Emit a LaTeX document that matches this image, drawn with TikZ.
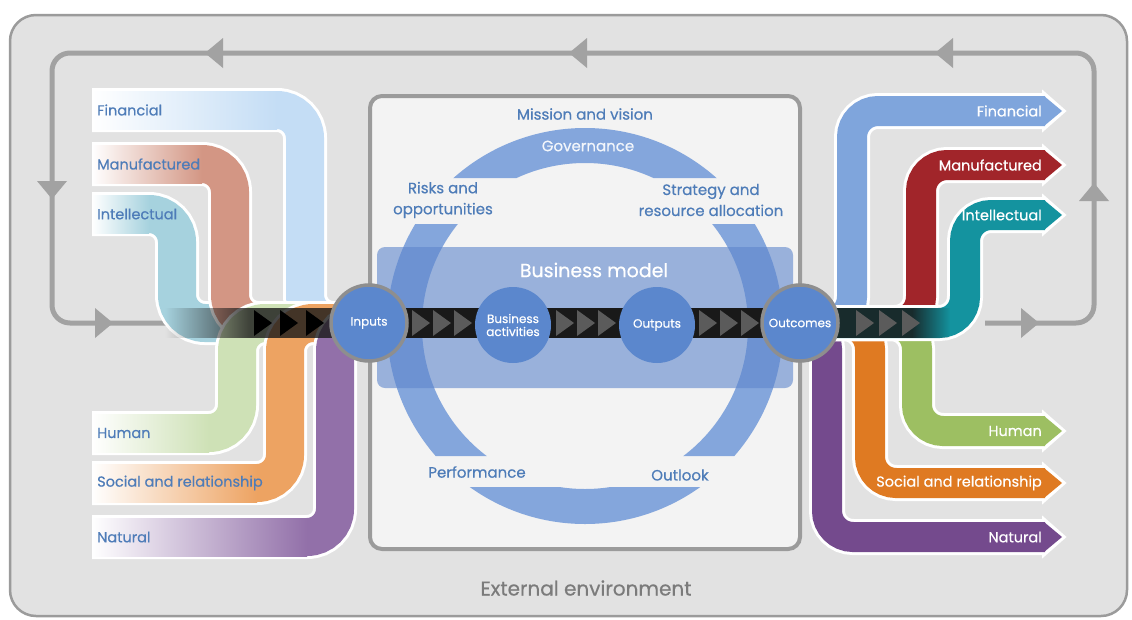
\documentclass[tikz,border=0pt]{standalone}
\usepackage{fontspec}
\setmainfont{Poppins}[FakeBold=0.5]
\usepackage{xcolor}
\definecolor{envgray}{HTML}{E2E2E2}
\definecolor{edgegray}{HTML}{9B9B9B}
\definecolor{loopgray}{HTML}{A2A2A2}
\definecolor{boxwhite}{HTML}{F3F3F3}
\definecolor{ringblue}{HTML}{84A6DC}
\definecolor{modelblue}{HTML}{5E86CC}
\definecolor{hubblue}{HTML}{5B87CD}
\definecolor{hubedge}{HTML}{8E8E8E}
\definecolor{labelblue}{HTML}{4E7CB8}
\definecolor{envtext}{HTML}{7B7B7B}
\definecolor{chainblack}{HTML}{191919}
\definecolor{chevgray}{HTML}{5B5B5B}
\definecolor{finpale}{HTML}{C4DDF5}
\definecolor{manpale}{HTML}{D39684}
\definecolor{intpale}{HTML}{A6D2DE}
\definecolor{humpale}{HTML}{CEE1B6}
\definecolor{socpale}{HTML}{EDA362}
\definecolor{natpale}{HTML}{9270A9}
\definecolor{finfull}{HTML}{7FA5DC}
\definecolor{manfull}{HTML}{A1252A}
\definecolor{intfull}{HTML}{14939F}
\definecolor{humfull}{HTML}{9DBF62}
\definecolor{socfull}{HTML}{DF7A22}
\definecolor{natfull}{HTML}{744A8D}
\usepackage{tikz}
\usetikzlibrary{fadings}
\tikzfading[name=fadeinright, left color=transparent!100, right color=transparent!0]
\tikzfading[name=fadeoutright, left color=transparent!0, right color=transparent!100]
\pgfdeclarelayer{front}
\pgfsetlayers{main,front}

\begin{document}
\begin{tikzpicture}[x=1pt, y=-1pt,
  inlabel/.style={anchor=west, text=labelblue, inner sep=0, font=\fontsize{14.5}{16}\selectfont},
  outlabel/.style={anchor=east, text=white, inner sep=0, font=\fontsize{14.5}{16}\selectfont},
  hub/.style={circle, fill=hubblue, minimum size=76, inner sep=0, text=white,
    align=center, font=\fontsize{12}{13}\selectfont},
  boxtext/.style={text=labelblue, align=center, font=\fontsize{15}{21}\selectfont},
  loopline/.style={loopgray, line width=5, rounded corners=18},
  looptip/.style={fill=loopgray},
  chevron/.style={fill=chevgray}]
  \useasboundingbox (0,0) rectangle (1132,619);
  % External environment
  \draw[edgegray, fill=envgray, line width=2.5, rounded corners=26] (10,15) rectangle (1127,616);
  \node[text=envtext, font=\fontsize{20}{22}\selectfont] (env) at (586,588) {External environment};
  % Feedback loop round the whole model
  \coordinate (loopin) at (185,323);
  \coordinate (loopout) at (985,323);
  \draw[loopline] (loopout) -| (1094,53) -| (52,323) -- (loopin);
  \foreach \x/\y/\r in {214/53/180, 578/53/180, 944/53/180, 52/190/-90,
                        104/323/0, 1094/192/90, 1030/323/0}
    \fill[looptip, shift={(\x,\y)}, rotate=\r] (-9,-15) -- (9,0) -- (-9,15) -- cycle;
  % Organisation box
  \draw[edgegray, line width=4, fill=boxwhite, rounded corners=12] (370,96) rectangle (800,549);
  \coordinate (ringc) at (585,326);
  \begin{scope}
    % gaps in the ring where its labels sit
    \clip (370,96) rectangle (800,178) (370,224) rectangle (800,456) (370,487) rectangle (800,549);
    \draw[ringblue, line width=35] (ringc) circle[radius=180.5];
  \end{scope}
  \fill[modelblue, opacity=0.6, rounded corners=8] (377,247) rectangle (793,388);
  \node[text=white, font=\fontsize{19}{21}\selectfont] (model) at (594,270) {Business model};
  \node[boxtext] (mission) at (585,114) {Mission and vision};
  \node[text=white!90!ringblue, font=\fontsize{15}{17}\selectfont] (gov) at (588,146) {Governance};
  \node[boxtext] (risks) at (443,200) {Risks and\\opportunities};
  \node[boxtext] (strategy) at (711,200) {Strategy and\\resource allocation};
  \node[boxtext] (perf) at (477,472) {Performance};
  \node[boxtext] (outlook) at (680,475) {Outlook};
  % Capitals going in
  \foreach \yc/\xv/\col/\name/\txt in {214/177/intpale/inint/Intellectual,
      164/230/manpale/inman/Manufactured, 110/305/finpale/infin/Financial,
      433/237/humpale/inhum/Human, 483/285/socpale/insoc/Social and relationship,
      537/335/natpale/innat/Natural}{
    \coordinate (\name-s) at (92,\yc);
    \coordinate (\name-e) at (380,323);
    \draw[white, line width=44, rounded corners=28] (\name-s) -- (\xv,\yc) -- (\xv,323) -- (\name-e);
    \draw[\col, line width=38, rounded corners=28] (\name-s) -- (\xv,\yc) -- (\xv,323) -- (\name-e);
    \shade[left color=white, right color=\col] (92,\yc-19) rectangle (\xv-28,\yc+19);
    \node[inlabel] (\name) at (97,\yc) {\txt};
  }
  % Capitals coming out
  \foreach \yc/\xv/\col/\name/\txt in {537/827/natfull/outnat/Natural,
      483/870/socfull/outsoc/Social and relationship, 431/917/humfull/outhum/Human,
      111/852/finfull/outfin/Financial, 165/921/manfull/outman/Manufactured,
      215/965/intfull/outint/Intellectual}{
    \coordinate (\name-s) at (770,323);
    \coordinate (\name-e) at (1045,\yc);
    \draw[white, line width=36, rounded corners=26] (\name-s) -- (\xv,323) -- (\xv,\yc) -- (\name-e);
    \draw[white, line width=6, line join=miter] (1045,\yc-15) -- (1062,\yc) -- (1045,\yc+15) -- cycle;
    \draw[\col, line width=30, rounded corners=26] (\name-s) -- (\xv,323) -- (\xv,\yc) -- (\name-e);
    \fill[\col] (1044,\yc-15) -- (1062,\yc) -- (1044,\yc+15) -- cycle;
    \node[outlabel] (\name) at (1042,\yc) {\txt};
  }
  % Dark value chain ends
  \fill[chainblack, opacity=0.8, path fading=fadeinright] (165,308) rectangle (250,338);
  \fill[chainblack, opacity=0.8] (250,308) rectangle (370,338);
  \fill[chainblack, opacity=0.85] (800,308) rectangle (912,338);
  \fill[chainblack, opacity=0.85, path fading=fadeoutright] (912,308) rectangle (950,338);
  % Hubs
  \begin{pgfonlayer}{front}
    \node[hub, draw=hubedge, line width=3.5] (inputs) at (369,323) {Inputs};
    \node[hub] (bizact) at (513,325) {Business\\activities};
    \node[hub] (outputs) at (657,325) {Outputs};
    \node[hub, draw=hubedge, line width=3.5] (outcomes) at (800,323) {Outcomes};
  \end{pgfonlayer}
  \draw[chainblack, line width=30, shorten <=-8, shorten >=-8] (inputs) -- (outcomes);
  \foreach \x in {412,433,454,556,577,598,699,720,741,856,879,902}
    \fill[chevron] (\x,310) -- (\x+18,323) -- (\x,336) -- cycle;
  \foreach \x in {254,280,306}
    \fill[black] (\x,310) -- (\x+18,323) -- (\x,336) -- cycle;
\end{tikzpicture}
\end{document}
